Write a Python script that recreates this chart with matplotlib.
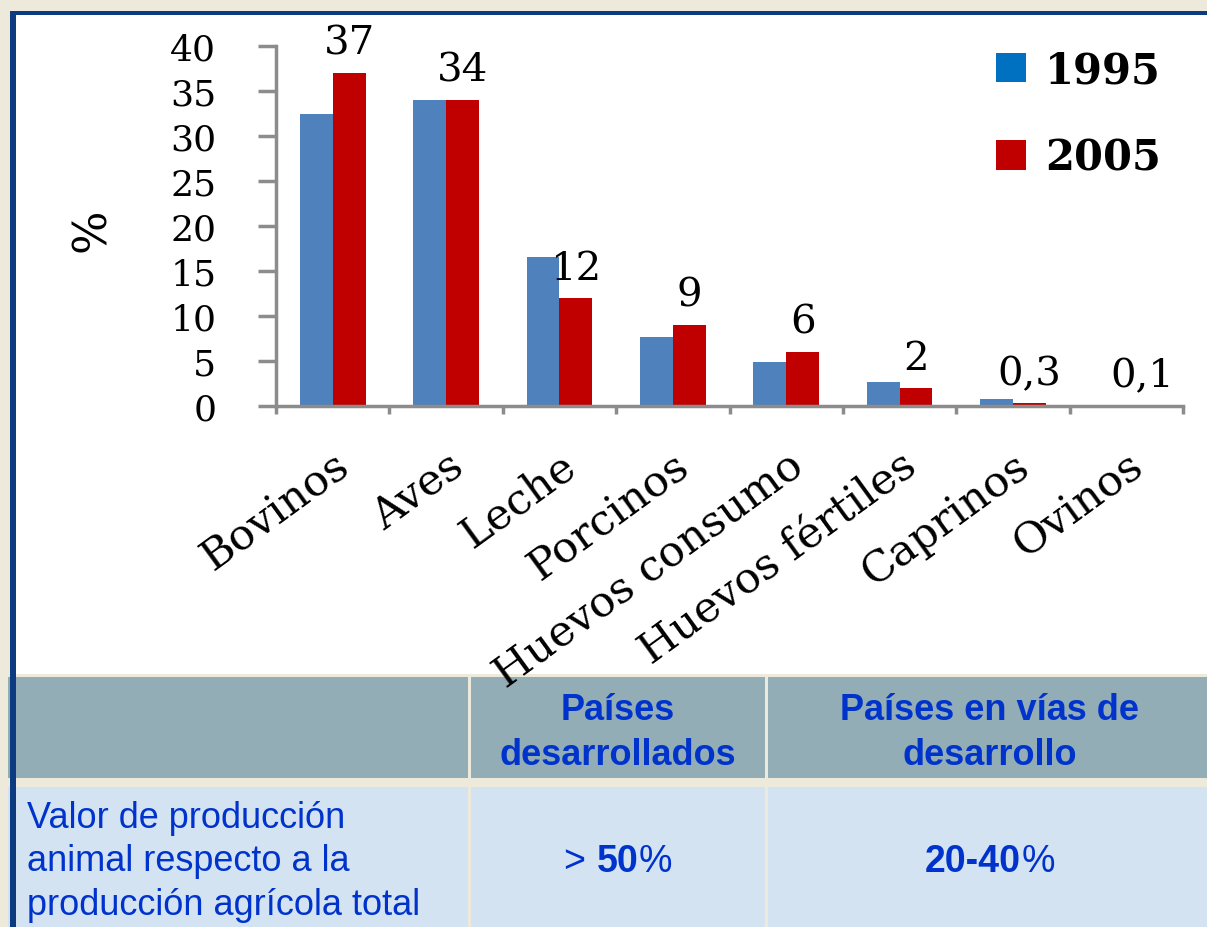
import matplotlib
matplotlib.use('Agg')
import matplotlib.pyplot as plt
from matplotlib.patches import Rectangle, Patch
import numpy as np

# data
categories = ['Bovinos', 'Aves', 'Leche', 'Porcinos', 'Huevos consumo',
              'Huevos fértiles', 'Caprinos', 'Ovinos']
vals_1995 = [32.4, 34.0, 16.6, 7.7, 4.9, 2.7, 0.8, 0.1]
vals_2005 = [37.0, 34.0, 12.0, 9.0, 6.0, 2.0, 0.3, 0.1]
labels_2005 = ['37', '34', '12', '9', '6', '2', '0,3', '0,1']
series_names = ['1995', '2005']
y_ticks = [0, 5, 10, 15, 20, 25, 30, 35, 40]

table_header = ['', 'Países\ndesarrollados', 'Países en vías de\ndesarrollo']
row_label = 'Valor de producción\nanimal respecto a la\nproducción agrícola total'
row_desarrollados = [('> ', 'normal'), ('50', 'bold'), ('%', 'normal')]
row_en_vias = [('20-40', 'bold'), ('%', 'normal')]

W, H = 1207, 928
BG = '#EEEADB'
BAR_BLUE = '#4F81BD'
BAR_RED = '#C00000'
LEG_BLUE = '#0070C0'
AXIS_GRAY = '#8C8C8C'
TXT_BLUE = '#0033CC'
SERIF = 'DejaVu Serif'
SANS = 'Liberation Sans'


def fx(px):
    return px / W


def fy(py):
    return 1 - py / H


def fig_rect(fig, x0, y0, x1, y1, color, z=0):
    fig.patches.append(Rectangle((fx(x0), fy(y1)), fx(x1) - fx(x0), fy(y0) - fy(y1),
                                 transform=fig.transFigure, facecolor=color,
                                 edgecolor='none', zorder=z))


fig = plt.figure(figsize=(W / 100, H / 100), dpi=100, facecolor=BG)

# white slide panel + table cells
fig_rect(fig, 15, 15, W, 675, 'white')
fig_rect(fig, 8, 678, 468, 779, '#92ADB5')
fig_rect(fig, 471, 678, 765, 779, '#92ADB5')
fig_rect(fig, 768, 678, W, 779, '#92ADB5')
fig_rect(fig, 8, 788, 468, H, '#D3E3F1')
fig_rect(fig, 471, 788, 765, H, '#D3E3F1')
fig_rect(fig, 768, 788, W, H, '#D3E3F1')
# dark blue frame
fig_rect(fig, 10, 12, 16, H, '#0D3B82', z=5)
fig_rect(fig, 10, 12, W, 16, '#0D3B82', z=5)

# bar chart
ax = fig.add_axes([fx(276), fy(407), (1183 - 276) / W, (407 - 47) / H])
ax.set_zorder(3)
ax.set_facecolor('none')
x = np.arange(len(categories))
w = 0.29
ax.bar(x - w / 2, vals_1995, w, color=BAR_BLUE, zorder=2)
bars_b = ax.bar(x + w / 2, vals_2005, w, color=BAR_RED, zorder=2)
for rect, lab in zip(bars_b, labels_2005):
    ax.annotate(lab, (rect.get_x() + rect.get_width() / 2, rect.get_height()),
                xytext=(0, 8), textcoords='offset points', ha='center', va='bottom',
                fontsize=29, family=SERIF)

ax.set_xlim(-0.5, len(categories) - 0.5)
ax.set_ylim(0, 40)
for s in ['top', 'right']:
    ax.spines[s].set_visible(False)
for s in ['left', 'bottom']:
    ax.spines[s].set_color(AXIS_GRAY)
    ax.spines[s].set_linewidth(2.5)

ax.set_yticks(y_ticks)
ax.set_yticklabels([str(v) for v in y_ticks], fontsize=26, family=SERIF)
ax.tick_params(axis='y', direction='out', length=13, width=2.5, color=AXIS_GRAY, pad=30)

ax.set_xticks(x)
ax.set_xticklabels(categories, rotation=36, ha='right', va='top',
                   rotation_mode='anchor', fontsize=31, family=SERIF)
ax.set_xticks(np.arange(len(categories) + 1) - 0.5, minor=True)
ax.tick_params(axis='x', which='major', length=0, pad=27)
ax.tick_params(axis='x', which='minor', direction='out', length=6, width=2.5, color=AXIS_GRAY)

ax.set_ylabel('%', fontsize=33, family=SERIF, rotation=90)
ax.yaxis.set_label_coords(-0.178, 0.49)

handles = [Patch(facecolor=LEG_BLUE), Patch(facecolor=BAR_RED)]
fig.legend(handles, series_names, loc='upper left', bbox_to_anchor=(fx(996), fy(50)),
           frameon=False, borderpad=0, borderaxespad=0, handlelength=0.72,
           handleheight=0.72, handletextpad=0.45, labelspacing=1.1,
           prop={'family': SERIF, 'weight': 'bold', 'size': 30})

# table text
fig.text(fx(618), fy(733), table_header[1], ha='center', va='center', color=TXT_BLUE,
         fontsize=26, fontweight='bold', family=SANS, linespacing=1.35)
fig.text(fx(990), fy(733), table_header[2], ha='center', va='center', color=TXT_BLUE,
         fontsize=26, fontweight='bold', family=SANS, linespacing=1.35)
fig.text(fx(27), fy(862), row_label, ha='left', va='center', color=TXT_BLUE,
         fontsize=26, family=SANS, linespacing=1.33)

renderer = fig.canvas.get_renderer()


def seg_text(cx, cy, parts):
    arts = []
    for txt, wt in parts:
        t = fig.text(0, fy(cy), txt, ha='left', va='center', color=TXT_BLUE, fontsize=27,
                     fontweight=wt, family=SANS)
        arts.append(t)
    widths = [a.get_window_extent(renderer).width for a in arts]
    xpos = cx - sum(widths) / 2
    for a, wd in zip(arts, widths):
        a.set_x(fx(xpos))
        xpos += wd


seg_text(618, 862, row_desarrollados)
seg_text(990, 862, row_en_vias)

fig.savefig('out.png', dpi=100, facecolor=BG)
